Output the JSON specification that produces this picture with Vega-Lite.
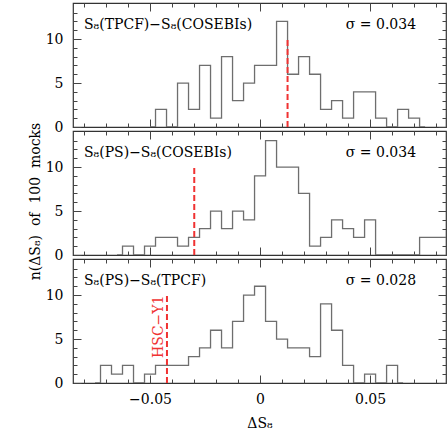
{
  "$schema": "https://vega.github.io/schema/vega-lite/v6.json",
  "padding": {"left": 27, "top": 1, "right": 2, "bottom": 5},
  "bounds": "flush",
  "spacing": 4,
  "config": {
    "font": "DejaVu Serif",
    "view": {"stroke": "#333", "strokeWidth": 1.2},
    "axis": {"grid": false, "domain": false, "tickColor": "#444", "tickWidth": 1, "labelFont": "DejaVu Serif", "labelFontSize": 14, "labelColor": "#000", "titleFont": "DejaVu Serif", "titleFontSize": 14, "titleFontWeight": "normal", "titleColor": "#000"},
    "text": {"font": "DejaVu Serif", "fontSize": 14, "color": "#000"}
  },
  "datasets": {
    "tpcf_cos": [
      {"dS8": -0.05, "n": 0}, {"dS8": -0.045, "n": 2}, {"dS8": -0.04, "n": 0}, {"dS8": -0.035, "n": 5},
      {"dS8": -0.03, "n": 2}, {"dS8": -0.025, "n": 7}, {"dS8": -0.02, "n": 1}, {"dS8": -0.015, "n": 8},
      {"dS8": -0.01, "n": 3}, {"dS8": -0.005, "n": 5}, {"dS8": 0.0, "n": 7}, {"dS8": 0.005, "n": 7},
      {"dS8": 0.01, "n": 12}, {"dS8": 0.015, "n": 6}, {"dS8": 0.02, "n": 8}, {"dS8": 0.025, "n": 6},
      {"dS8": 0.03, "n": 2}, {"dS8": 0.035, "n": 3}, {"dS8": 0.04, "n": 1}, {"dS8": 0.045, "n": 4},
      {"dS8": 0.05, "n": 4}, {"dS8": 0.055, "n": 1}, {"dS8": 0.06, "n": 0}, {"dS8": 0.065, "n": 2},
      {"dS8": 0.07, "n": 1}, {"dS8": 0.075, "n": 0}
    ],
    "ps_cos": [
      {"dS8": -0.065, "n": 0}, {"dS8": -0.06, "n": 1}, {"dS8": -0.055, "n": 0}, {"dS8": -0.05, "n": 1},
      {"dS8": -0.045, "n": 2}, {"dS8": -0.04, "n": 2}, {"dS8": -0.035, "n": 1}, {"dS8": -0.03, "n": 2},
      {"dS8": -0.025, "n": 3}, {"dS8": -0.02, "n": 5}, {"dS8": -0.015, "n": 3}, {"dS8": -0.01, "n": 5},
      {"dS8": -0.005, "n": 4}, {"dS8": 0.0, "n": 9}, {"dS8": 0.005, "n": 13}, {"dS8": 0.01, "n": 10},
      {"dS8": 0.015, "n": 10}, {"dS8": 0.02, "n": 7}, {"dS8": 0.025, "n": 1}, {"dS8": 0.03, "n": 2},
      {"dS8": 0.035, "n": 4}, {"dS8": 0.04, "n": 3}, {"dS8": 0.045, "n": 2}, {"dS8": 0.05, "n": 4},
      {"dS8": 0.055, "n": 0}, {"dS8": 0.06, "n": 0}, {"dS8": 0.065, "n": 0}, {"dS8": 0.07, "n": 0},
      {"dS8": 0.075, "n": 2}, {"dS8": 0.08, "n": 2}, {"dS8": 0.085, "n": 2}, {"dS8": 0.09, "n": 2}
    ],
    "ps_tpcf": [
      {"dS8": -0.075, "n": 0}, {"dS8": -0.07, "n": 2}, {"dS8": -0.065, "n": 1}, {"dS8": -0.06, "n": 2},
      {"dS8": -0.055, "n": 0}, {"dS8": -0.05, "n": 1}, {"dS8": -0.045, "n": 2}, {"dS8": -0.04, "n": 2},
      {"dS8": -0.035, "n": 2}, {"dS8": -0.03, "n": 3}, {"dS8": -0.025, "n": 4}, {"dS8": -0.02, "n": 6},
      {"dS8": -0.015, "n": 4}, {"dS8": -0.01, "n": 7}, {"dS8": -0.005, "n": 10}, {"dS8": 0.0, "n": 11},
      {"dS8": 0.005, "n": 7}, {"dS8": 0.01, "n": 5}, {"dS8": 0.015, "n": 4}, {"dS8": 0.02, "n": 4},
      {"dS8": 0.025, "n": 3}, {"dS8": 0.03, "n": 9}, {"dS8": 0.035, "n": 6}, {"dS8": 0.04, "n": 2},
      {"dS8": 0.045, "n": 0}, {"dS8": 0.05, "n": 1}, {"dS8": 0.055, "n": 0}, {"dS8": 0.06, "n": 2},
      {"dS8": 0.065, "n": 0}
    ]
  },
  "vconcat": [
    {
      "width": 373, "height": 124,
      "resolve": {"axis": {"x": "independent", "y": "independent"}},
      "layer": [
        {
          "data": {"name": "tpcf_cos"},
          "mark": {"type": "line", "interpolate": "step", "color": "#6e6e6e", "strokeWidth": 1.3, "clip": true},
          "encoding": {
            "x": {"field": "dS8", "type": "quantitative", "scale": {"domain": [-0.085, 0.0845], "nice": false, "zero": false}, "axis": {"orient": "bottom", "values": [-0.05, 0, 0.05], "tickSize": -8, "labels": false, "title": null}},
            "y": {"field": "n", "type": "quantitative", "scale": {"domain": [0, 14.1], "nice": false, "zero": false}, "axis": {"orient": "left", "values": [0, 5, 10], "tickSize": -8, "labelPadding": 18, "format": "d", "title": null}}
          }
        },
        {
          "data": {"values": [{"label": "S₈(TPCF)−S₈(COSEBIs)", "sigma": "σ = 0.034", "ref": 0.0125}]},
          "mark": {"type": "rule", "color": "#f03232", "strokeWidth": 2, "strokeDash": [6, 3]},
          "encoding": {
            "x": {"field": "ref", "type": "quantitative", "scale": {"domain": [-0.085, 0.0845], "nice": false, "zero": false}, "axis": {"orient": "bottom", "values": [-0.08, -0.07, -0.06, -0.04, -0.03, -0.02, -0.01, 0.01, 0.02, 0.03, 0.04, 0.06, 0.07, 0.08], "tickSize": -4, "labels": false, "title": null}},
            "y": {"datum": 0, "type": "quantitative", "scale": {"domain": [0, 14.1], "nice": false, "zero": false}, "axis": {"orient": "left", "values": [1, 2, 3, 4, 6, 7, 8, 9, 11, 12, 13], "tickSize": -4, "labels": false, "title": null}},
            "y2": {"datum": 10}
          }
        },
        {
          "data": {"values": [{"label": "S₈(TPCF)−S₈(COSEBIs)", "sigma": "σ = 0.034"}]},
          "mark": {"type": "text", "align": "left", "baseline": "alphabetic"},
          "encoding": {
            "x": {"datum": -0.08, "type": "quantitative", "scale": {"domain": [-0.085, 0.0845], "nice": false, "zero": false}, "axis": {"orient": "top", "values": [-0.05, 0, 0.05], "tickSize": -8, "labels": false, "title": null}},
            "y": {"datum": 11.2, "type": "quantitative", "scale": {"domain": [0, 14.1], "nice": false, "zero": false}, "axis": {"orient": "right", "values": [0, 5, 10], "tickSize": -8, "labels": false, "title": null}},
            "text": {"field": "label"}
          }
        },
        {
          "data": {"values": [{"label": "S₈(TPCF)−S₈(COSEBIs)", "sigma": "σ = 0.034"}]},
          "mark": {"type": "text", "align": "right", "baseline": "alphabetic"},
          "encoding": {
            "x": {"datum": 0.0709, "type": "quantitative", "scale": {"domain": [-0.085, 0.0845], "nice": false, "zero": false}, "axis": {"orient": "top", "values": [-0.08, -0.07, -0.06, -0.04, -0.03, -0.02, -0.01, 0.01, 0.02, 0.03, 0.04, 0.06, 0.07, 0.08], "tickSize": -4, "labels": false, "title": null}},
            "y": {"datum": 11.1, "type": "quantitative", "scale": {"domain": [0, 14.1], "nice": false, "zero": false}, "axis": {"orient": "right", "values": [1, 2, 3, 4, 6, 7, 8, 9, 11, 12, 13], "tickSize": -4, "labels": false, "title": null}},
            "text": {"field": "sigma"}
          }
        }
      ]
    },
    {
      "width": 373, "height": 124,
      "resolve": {"axis": {"x": "independent", "y": "independent"}},
      "layer": [
        {
          "data": {"name": "ps_cos"},
          "mark": {"type": "line", "interpolate": "step", "color": "#6e6e6e", "strokeWidth": 1.3, "clip": true},
          "encoding": {
            "x": {"field": "dS8", "type": "quantitative", "scale": {"domain": [-0.085, 0.0845], "nice": false, "zero": false}, "axis": {"orient": "bottom", "values": [-0.05, 0, 0.05], "tickSize": -8, "labels": false, "title": null}},
            "y": {"field": "n", "type": "quantitative", "scale": {"domain": [0, 14.1], "nice": false, "zero": false}, "axis": {"orient": "left", "values": [0, 5, 10], "tickSize": -8, "labelPadding": 18, "format": "d", "title": "n(ΔS₈)\u00a0 of\u00a0 100\u00a0 mocks", "titlePadding": 3, "titleY": 70}}
          }
        },
        {
          "data": {"values": [{"label": "S₈(PS)−S₈(COSEBIs)", "sigma": "σ = 0.034", "ref": -0.0299}]},
          "mark": {"type": "rule", "color": "#f03232", "strokeWidth": 2, "strokeDash": [6, 3]},
          "encoding": {
            "x": {"field": "ref", "type": "quantitative", "scale": {"domain": [-0.085, 0.0845], "nice": false, "zero": false}, "axis": {"orient": "bottom", "values": [-0.08, -0.07, -0.06, -0.04, -0.03, -0.02, -0.01, 0.01, 0.02, 0.03, 0.04, 0.06, 0.07, 0.08], "tickSize": -4, "labels": false, "title": null}},
            "y": {"datum": 0, "type": "quantitative", "scale": {"domain": [0, 14.1], "nice": false, "zero": false}, "axis": {"orient": "left", "values": [1, 2, 3, 4, 6, 7, 8, 9, 11, 12, 13], "tickSize": -4, "labels": false, "title": null}},
            "y2": {"datum": 10}
          }
        },
        {
          "data": {"values": [{"label": "S₈(PS)−S₈(COSEBIs)", "sigma": "σ = 0.034"}]},
          "mark": {"type": "text", "align": "left", "baseline": "alphabetic"},
          "encoding": {
            "x": {"datum": -0.08, "type": "quantitative", "scale": {"domain": [-0.085, 0.0845], "nice": false, "zero": false}, "axis": {"orient": "top", "values": [-0.05, 0, 0.05], "tickSize": -8, "labels": false, "title": null}},
            "y": {"datum": 11.2, "type": "quantitative", "scale": {"domain": [0, 14.1], "nice": false, "zero": false}, "axis": {"orient": "right", "values": [0, 5, 10], "tickSize": -8, "labels": false, "title": null}},
            "text": {"field": "label"}
          }
        },
        {
          "data": {"values": [{"label": "S₈(PS)−S₈(COSEBIs)", "sigma": "σ = 0.034"}]},
          "mark": {"type": "text", "align": "right", "baseline": "alphabetic"},
          "encoding": {
            "x": {"datum": 0.0709, "type": "quantitative", "scale": {"domain": [-0.085, 0.0845], "nice": false, "zero": false}, "axis": {"orient": "top", "values": [-0.08, -0.07, -0.06, -0.04, -0.03, -0.02, -0.01, 0.01, 0.02, 0.03, 0.04, 0.06, 0.07, 0.08], "tickSize": -4, "labels": false, "title": null}},
            "y": {"datum": 11.1, "type": "quantitative", "scale": {"domain": [0, 14.1], "nice": false, "zero": false}, "axis": {"orient": "right", "values": [1, 2, 3, 4, 6, 7, 8, 9, 11, 12, 13], "tickSize": -4, "labels": false, "title": null}},
            "text": {"field": "sigma"}
          }
        }
      ]
    },
    {
      "width": 373, "height": 124,
      "resolve": {"axis": {"x": "independent", "y": "independent"}},
      "layer": [
        {
          "data": {"name": "ps_tpcf"},
          "mark": {"type": "line", "interpolate": "step", "color": "#6e6e6e", "strokeWidth": 1.3, "clip": true},
          "encoding": {
            "x": {"field": "dS8", "type": "quantitative", "scale": {"domain": [-0.085, 0.0845], "nice": false, "zero": false}, "axis": {"orient": "bottom", "values": [-0.05, 0, 0.05], "tickSize": -8, "labelPadding": 17, "format": "~g", "title": "ΔS₈", "titlePadding": 10}},
            "y": {"field": "n", "type": "quantitative", "scale": {"domain": [0, 14.1], "nice": false, "zero": false}, "axis": {"orient": "left", "values": [0, 5, 10], "tickSize": -8, "labelPadding": 18, "format": "d", "title": null}}
          }
        },
        {
          "data": {"values": [{"label": "S₈(PS)−S₈(TPCF)", "sigma": "σ = 0.028", "ref": -0.0423}]},
          "mark": {"type": "rule", "color": "#f03232", "strokeWidth": 2, "strokeDash": [6, 3]},
          "encoding": {
            "x": {"field": "ref", "type": "quantitative", "scale": {"domain": [-0.085, 0.0845], "nice": false, "zero": false}, "axis": {"orient": "bottom", "values": [-0.08, -0.07, -0.06, -0.04, -0.03, -0.02, -0.01, 0.01, 0.02, 0.03, 0.04, 0.06, 0.07, 0.08], "tickSize": -4, "labels": false, "title": null}},
            "y": {"datum": 0, "type": "quantitative", "scale": {"domain": [0, 14.1], "nice": false, "zero": false}, "axis": {"orient": "left", "values": [1, 2, 3, 4, 6, 7, 8, 9, 11, 12, 13], "tickSize": -4, "labels": false, "title": null}},
            "y2": {"datum": 10}
          }
        },
        {
          "data": {"values": [{"label": "S₈(PS)−S₈(TPCF)", "sigma": "σ = 0.028"}]},
          "mark": {"type": "text", "align": "left", "baseline": "alphabetic"},
          "encoding": {
            "x": {"datum": -0.08, "type": "quantitative", "scale": {"domain": [-0.085, 0.0845], "nice": false, "zero": false}, "axis": {"orient": "top", "values": [-0.05, 0, 0.05], "tickSize": -8, "labels": false, "title": null}},
            "y": {"datum": 11.2, "type": "quantitative", "scale": {"domain": [0, 14.1], "nice": false, "zero": false}, "axis": {"orient": "right", "values": [0, 5, 10], "tickSize": -8, "labels": false, "title": null}},
            "text": {"field": "label"}
          }
        },
        {
          "data": {"values": [{"label": "S₈(PS)−S₈(TPCF)", "sigma": "σ = 0.028"}]},
          "mark": {"type": "text", "align": "right", "baseline": "alphabetic"},
          "encoding": {
            "x": {"datum": 0.0709, "type": "quantitative", "scale": {"domain": [-0.085, 0.0845], "nice": false, "zero": false}, "axis": {"orient": "top", "values": [-0.08, -0.07, -0.06, -0.04, -0.03, -0.02, -0.01, 0.01, 0.02, 0.03, 0.04, 0.06, 0.07, 0.08], "tickSize": -4, "labels": false, "title": null}},
            "y": {"datum": 11.1, "type": "quantitative", "scale": {"domain": [0, 14.1], "nice": false, "zero": false}, "axis": {"orient": "right", "values": [1, 2, 3, 4, 6, 7, 8, 9, 11, 12, 13], "tickSize": -4, "labels": false, "title": null}},
            "text": {"field": "sigma"}
          }
        },
        {
          "data": {"values": [{"tag": "HSC−Y1"}]},
          "mark": {"type": "text", "align": "center", "baseline": "alphabetic", "angle": 270, "color": "#f03232"},
          "encoding": {
            "x": {"datum": -0.0441, "type": "quantitative", "scale": {"domain": [-0.085, 0.0845], "nice": false, "zero": false}, "axis": null},
            "y": {"datum": 6.4, "type": "quantitative", "scale": {"domain": [0, 14.1], "nice": false, "zero": false}, "axis": null},
            "text": {"field": "tag"}
          }
        }
      ]
    }
  ]
}
